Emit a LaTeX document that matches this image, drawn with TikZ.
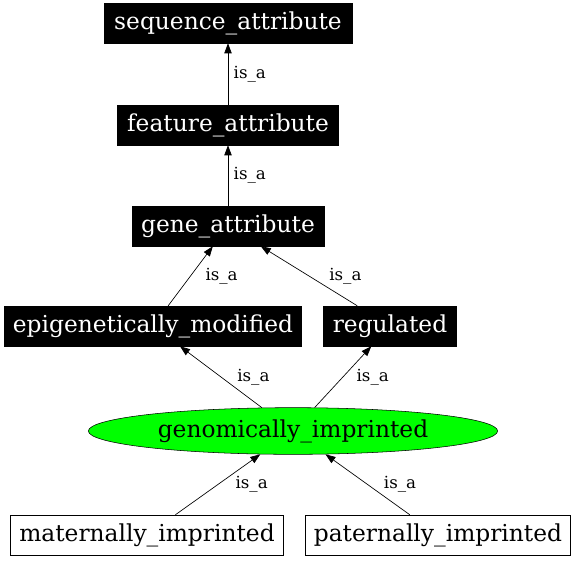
\documentclass[tikz,border=0pt]{standalone}
\usepackage{fontspec}
\setmainfont{DejaVu Serif}
\usetikzlibrary{arrows.meta,shapes.geometric}

\begin{document}
\begin{tikzpicture}[x=0.75pt, y=-0.75pt, >={Triangle[length=7.5pt,width=5.5pt]},
  term/.style={draw=black, fill=black, text=white, font=\fontsize{17.5}{20}\selectfont, minimum height=30pt, inner xsep=4pt},
  leaf/.style={draw=black, fill=white, font=\fontsize{17.5}{20}\selectfont, minimum height=30pt, inner xsep=4pt},
  focus/.style={ellipse, draw=black, fill=green, font=\fontsize{17.5}{20}\selectfont, minimum width=307pt, minimum height=35pt, inner sep=0pt},
  isa/.style={->, black, line width=0.5pt},
  lbl/.style={font=\fontsize{12.5}{14}\selectfont, anchor=west, inner sep=1pt}]
\useasboundingbox (0,0) rectangle (576,562);
\node[term, minimum width=186pt] (seqattr) at (228,23) {sequence\_attribute};
\node[term, minimum width=166pt] (featattr) at (228,125) {feature\_attribute};
\node[term, minimum width=144pt] (geneattr) at (228,226) {gene\_attribute};
\node[term, minimum width=223pt] (epimod) at (153,326) {epigenetically\_modified};
\node[term, minimum width=100pt] (regul) at (390,326) {regulated};
\node[focus] (genimp) at (293,431) {genomically\_imprinted};
\node[leaf, minimum width=205pt] (matimp) at (147,535) {maternally\_imprinted};
\node[leaf, minimum width=199pt] (patimp) at (438,535) {paternally\_imprinted};
% is_a edges, child to parent
\draw[isa] (featattr) -- (seqattr) node[lbl, pos=0.5, xshift=3pt] {is\_a};
\draw[isa] (geneattr) -- (featattr) node[lbl, pos=0.5, xshift=3pt] {is\_a};
\draw[isa] (epimod) -- (geneattr) node[lbl, pos=0.5, xshift=10pt] {is\_a};
\draw[isa] (regul) -- (geneattr) node[lbl, pos=0.5, xshift=14pt] {is\_a};
\draw[isa] (genimp) -- (epimod) node[lbl, pos=0.5, xshift=11pt] {is\_a};
\draw[isa] (genimp) -- (regul) node[lbl, pos=0.5, xshift=9pt] {is\_a};
\draw[isa] (matimp) -- (genimp) node[lbl, pos=0.5, xshift=12pt] {is\_a};
\draw[isa] (patimp) -- (genimp) node[lbl, pos=0.5, xshift=11pt] {is\_a};
\end{tikzpicture}
\end{document}
